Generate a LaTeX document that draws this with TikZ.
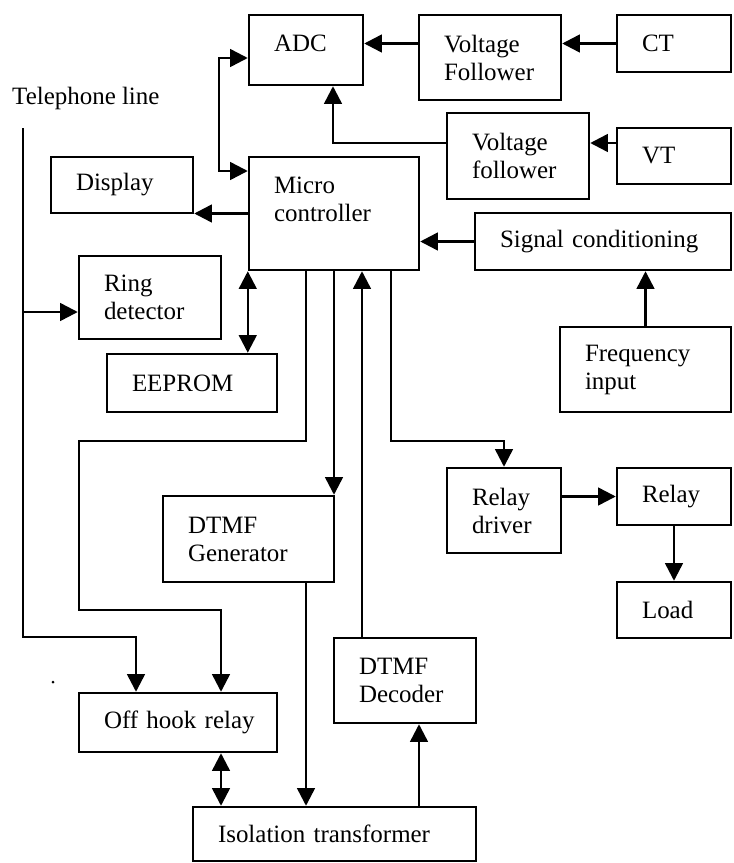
\documentclass[tikz,border=0pt]{standalone}
\usepackage{fontspec}
\setmainfont{Liberation Serif}
\usetikzlibrary{arrows.meta}
\tikzset{
  block/.style={draw,line width=2.1pt,align=left,inner xsep=.75cm,inner ysep=2pt,
    font=\fontsize{21.3}{23.9}\selectfont},
  wire/.style={line width=2.1pt}
}

\begin{document}
\begin{tikzpicture}[x=1cm,y=1cm,>={Triangle[length=15pt,width=15pt]}]
  \useasboundingbox (0,0) rectangle (21.99,-25.89);

  % measurement side
  \node[block,text width=1.92cm,minimum height=2.10cm] (adc) at (9.18,-1.50) {ADC\\[-13pt]\mbox{}};
  \node[block,text width=2.76cm,minimum height=2.55cm] (volt1) at (14.70,-1.725) {Voltage\\Follower};
  \node[block,text width=1.92cm,minimum height=1.71cm] (ct) at (20.22,-1.305) {CT};
  \node[block,text width=2.76cm,minimum height=2.58cm] (volt2) at (15.54,-4.68) {Voltage\\follower};
  \node[block,text width=1.92cm,minimum height=1.68cm] (vt) at (20.22,-4.68) {VT};
  \node[block,text width=2.76cm,minimum height=1.68cm] (display) at (3.66,-5.55) {Display};
  \node[block,text width=3.60cm,minimum height=3.39cm] (mcu) at (10.02,-6.405) {Micro\\controller\\\mbox{}};
  \node[block,text width=6.18cm,minimum height=1.71cm] (sigcond) at (18.09,-7.245) {Signal conditioning};
  \node[block,text width=2.76cm,minimum height=2.49cm] (ring) at (4.50,-8.925) {Ring\\detector};
  \node[block,text width=3.60cm,minimum height=1.74cm] (eeprom) at (5.76,-11.49) {EEPROM};
  \node[block,text width=3.63cm,minimum height=2.55cm] (freq) at (19.365,-11.085) {Frequency\\input};

  % telephone and load side
  \node[block,text width=3.63cm,minimum height=2.58cm] (dtmfgen) at (7.455,-16.17) {DTMF\\Generator};
  \node[block,text width=1.92cm,minimum height=2.55cm] (relaydrv) at (15.12,-15.315) {Relay\\driver};
  \node[block,text width=1.92cm,minimum height=1.71cm] (relay) at (20.22,-14.895) {Relay};
  \node[block,text width=1.92cm,minimum height=1.68cm] (load) at (20.22,-18.30) {Load};
  \node[block,text width=2.76cm,minimum height=2.55cm] (decoder) at (12.15,-20.415) {DTMF\\Decoder};
  \node[block,text width=4.44cm,minimum height=1.77cm] (offhook) at (5.34,-21.675) {\mbox{Off hook relay}};
  \node[block,text width=6.99cm,minimum height=1.62cm] (isolation) at (10.035,-25.02) {Isolation transformer};

  \node[font=\fontsize{21.3}{23.9}\selectfont,anchor=west,inner sep=0pt] (telline) at (.36,-2.94) {Telephone line};
  \coordinate (linetop) at (.69,-3.84);
  \fill (1.59,-20.46) circle (.045);

  % into the ADC
  \draw[wire,->] (ct.west) -- (ct.west -| volt1.east);
  \draw[wire,->] (volt1.west |- ct.west) -- (ct.west -| adc.east);
  \draw[wire,->] ([yshift=.39cm]vt.west) -- ([yshift=.39cm]vt.west -| volt2.east);
  \draw[wire,->] ([yshift=.39cm]vt.west -| volt2.west) -| ([xshift=.81cm]adc.south);
  \draw[wire,<->] ([yshift=-.24cm]adc.west) -- ++(-.87,0) |- ([yshift=1.275cm]mcu.west);

  % around the controller
  \draw[wire,->] (mcu.west) -- (mcu.west -| display.east);
  \draw[wire,->] (sigcond.west) -- (sigcond.west -| mcu.east);
  \draw[wire,->] (freq.north) -- (freq.north |- sigcond.south);
  \draw[wire,<->] (mcu.south west) -- (mcu.south west |- eeprom.north);

  % telephone line
  \draw[wire,->] (linetop) |- ([xshift=-1.26cm]offhook.north |- decoder.north) -- ([xshift=-1.26cm]offhook.north);
  \draw[wire,->] ([yshift=-.435cm]ring.west -| linetop) -- ([yshift=-.435cm]ring.west);

  % controller outputs and inputs
  \draw[wire,->] ([xshift=-.84cm]mcu.south) -- ++(0,-5.10) -| ++(-6.81,-5.07) -| ([xshift=1.29cm]offhook.north);
  \draw[wire,->] (mcu.south) -- (mcu.south |- dtmfgen.north);
  \draw[wire,->] ([xshift=-1.29cm]decoder.north) -- ([xshift=-1.29cm]decoder.north |- mcu.south);
  \draw[wire,->] ([xshift=1.71cm]mcu.south) -- ++(0,-5.10) -| (relaydrv.north);
  \draw[wire,->] (relay.west -| relaydrv.east) -- (relay.west);
  \draw[wire,->] (relay.south) -- (load.north);

  % isolation transformer
  \draw[wire,->] ([xshift=1.725cm]dtmfgen.south) -- ([xshift=1.725cm]dtmfgen.south |- isolation.north);
  \draw[wire,->] ([xshift=.42cm]decoder.south |- isolation.north) -- ([xshift=.42cm]decoder.south);
  \draw[wire,<->] ([xshift=1.29cm]offhook.south) -- ([xshift=1.29cm]offhook.south |- isolation.north);
\end{tikzpicture}
\end{document}
